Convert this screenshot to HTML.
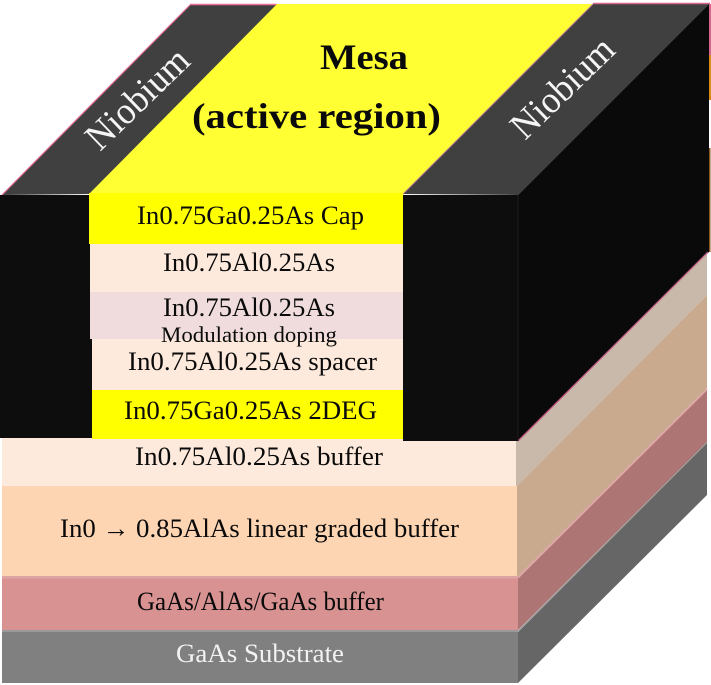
<!DOCTYPE html>
<html><head><meta charset="utf-8"><style>
html,body{margin:0;padding:0;background:#fff}
svg{display:block}
text{font-family:"Liberation Serif",serif;font-size:26px;fill:#0a0a0a}
</style></head><body>
<svg width="711" height="685" viewBox="0 0 711 685" xmlns="http://www.w3.org/2000/svg">
<rect width="711" height="685" fill="#fff"/>
<!-- right edge accents -->
<rect x="709" y="4" width="2" height="52" fill="#d9668f"/>
<rect x="709" y="55" width="2" height="45" fill="#d98a1a"/>
<rect x="709" y="148" width="1.500" height="104" fill="#8a5a25"/>
<!-- top faces -->
<polygon points="2,195 190,5 277,5 90,194" fill="#404040"/>
<line x1="2" y1="195" x2="190" y2="5" stroke="#e06a92" stroke-width="1.200"/>
<line x1="190" y1="4.500" x2="277" y2="4.500" stroke="#ee6f98" stroke-width="1.500"/>
<polygon points="89,194 277,4 594,4 403,195" fill="#ffff33"/>
<polygon points="403,194 593,4 709,4 518,195" fill="#404040"/>
<line x1="403" y1="194" x2="593" y2="4" stroke="#c77f90" stroke-width="1"/>
<line x1="593" y1="3.500" x2="710" y2="3.500" stroke="#d9668f" stroke-width="1.500"/>
<!-- right side faces -->
<polygon points="518,195 709,4 709,252 518,441" fill="#0a0a0a"/>
<polygon points="516,441 518,441 707,253 707,295 517,486 516,486" fill="#c9b9ab"/>
<polygon points="516.500,486 517,486 707,295 707,388 518,577 516.500,577" fill="#c9aa8f"/>
<polygon points="518,630 518,578 707,390 707,442" fill="#ae7575"/>
<polygon points="518,683 518,632 707,443 707,495" fill="#666666"/>
<line x1="518" y1="441" x2="708" y2="252" stroke="#c65f85" stroke-width="1.300"/>
<line x1="518" y1="577.500" x2="707" y2="389" stroke="#dfa8a8" stroke-width="2"/>
<line x1="518" y1="631" x2="707" y2="442.500" stroke="#999" stroke-width="1"/>
<!-- front black blocks -->
<rect x="0" y="195" width="92" height="243" fill="#0d0d0d"/>
<rect x="403" y="195" width="115" height="246" fill="#0d0d0d"/>
<line x1="518" y1="195" x2="518" y2="441" stroke="#1f1a1a" stroke-width="1"/>
<!-- mesa stack -->
<rect x="89" y="193" width="314" height="51" fill="#ffff00"/>
<rect x="90" y="244" width="313" height="48" fill="#fdeadc"/>
<rect x="90" y="292" width="313" height="47" fill="#f0dcdc"/>
<rect x="92" y="339" width="311" height="51" fill="#fdeadc"/>
<rect x="92" y="390" width="311" height="49" fill="#ffff00"/>
<!-- lower layers -->
<rect x="2" y="438" width="90" height="48" fill="#fdeadc"/>
<rect x="92" y="439" width="424" height="47" fill="#fdeadc"/>
<rect x="403" y="439" width="115" height="2" fill="#0d0d0d"/>
<rect x="2" y="486" width="515" height="90" fill="#fdd5b3"/>
<rect x="2" y="576" width="516" height="2.500" fill="#dea5a5"/>
<rect x="2" y="578.500" width="516" height="51.500" fill="#d89292"/>
<rect x="2" y="630" width="516" height="2" fill="#999999"/>
<rect x="2" y="632" width="516" height="51" fill="#808080"/>
<!-- labels -->
<text x="320" y="69" style="font-size:36px;font-weight:bold" textLength="88" lengthAdjust="spacingAndGlyphs">Mesa</text>
<text x="192" y="128" style="font-size:36px;font-weight:bold" textLength="249" lengthAdjust="spacingAndGlyphs">(active region)</text>
<text transform="translate(100,152) rotate(-44)" style="font-size:38px;fill:#f5f5f5" textLength="128" lengthAdjust="spacingAndGlyphs">Niobium</text>
<text transform="translate(525,141) rotate(-44)" style="font-size:38px;fill:#f5f5f5" textLength="128" lengthAdjust="spacingAndGlyphs">Niobium</text>
<text x="137" y="224" textLength="227" lengthAdjust="spacingAndGlyphs">In0.75Ga0.25As Cap</text>
<text x="163" y="271" textLength="172" lengthAdjust="spacingAndGlyphs">In0.75Al0.25As</text>
<text x="163" y="316" textLength="172" lengthAdjust="spacingAndGlyphs">In0.75Al0.25As</text>
<text x="161" y="342" style="font-size:22px" textLength="176" lengthAdjust="spacingAndGlyphs">Modulation doping</text>
<text x="128" y="370" textLength="249" lengthAdjust="spacingAndGlyphs">In0.75Al0.25As spacer</text>
<text x="124" y="419" textLength="253" lengthAdjust="spacingAndGlyphs">In0.75Ga0.25As 2DEG</text>
<text x="135" y="465" textLength="248" lengthAdjust="spacingAndGlyphs">In0.75Al0.25As  buffer</text>
<text x="60" y="537" textLength="399" lengthAdjust="spacingAndGlyphs">In0 → 0.85AlAs linear graded buffer</text>
<text x="137" y="610" textLength="247" lengthAdjust="spacingAndGlyphs">GaAs/AlAs/GaAs buffer</text>
<text x="176" y="662" style="fill:#f2f2f2" textLength="168" lengthAdjust="spacingAndGlyphs">GaAs Substrate</text>
</svg>
</body></html>
